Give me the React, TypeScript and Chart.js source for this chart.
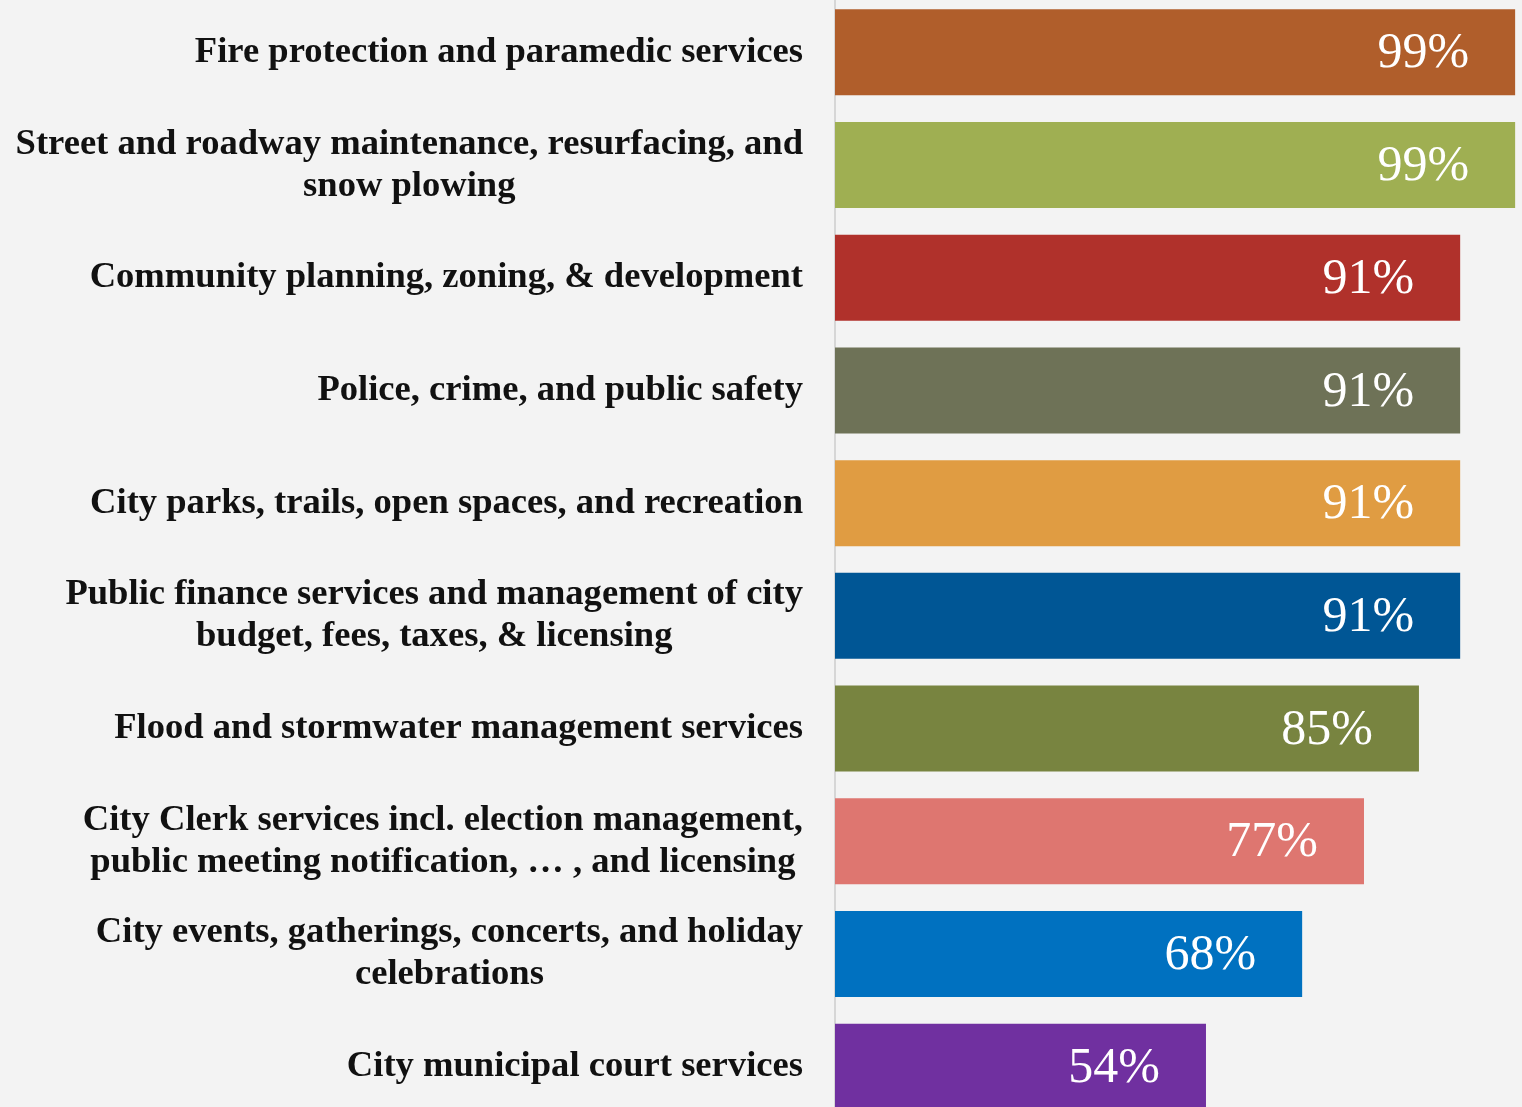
import React, { useEffect, useRef } from "react";
import { Chart, registerables } from "chart.js";

Chart.register(...registerables);

const categories: string[][] = [
  ["Fire protection and paramedic services"],
  ["Street and roadway maintenance, resurfacing, and", "snow plowing"],
  ["Community planning, zoning, & development"],
  ["Police, crime, and public safety"],
  ["City parks, trails, open spaces, and recreation"],
  ["Public finance services and management of city", "budget, fees, taxes, & licensing"],
  ["Flood and stormwater management services"],
  ["City Clerk services incl. election management,", "public meeting notification, … , and licensing"],
  ["City events, gatherings, concerts, and holiday", "celebrations"],
  ["City municipal court services"],
];

const values: number[] = [99, 99, 91, 91, 91, 91, 85, 77, 68, 54];

const barColors: string[] = [
  "#B05E2B",
  "#9FAF52",
  "#B0312B",
  "#6E7257",
  "#E09C42",
  "#005695",
  "#788440",
  "#DE7670",
  "#0071C0",
  "#7030A0",
];

const LABEL_FONT = "bold 36.6px 'Liberation Serif', serif";
const LABEL_LINE = 42;
const LABEL_GAP = 32;

const categoryLabelPlugin = {
  id: "categoryLabels",
  afterDraw(chart: any) {
    const ctx = chart.ctx;
    const yScale = chart.scales.y;
    const right = yScale.right - LABEL_GAP;
    ctx.save();
    ctx.fillStyle = "#111111";
    ctx.font = LABEL_FONT;
    ctx.textAlign = "center";
    ctx.textBaseline = "middle";
    categories.forEach((lines, i) => {
      const y = yScale.getPixelForTick(i);
      const maxW = Math.max(...lines.map((l) => ctx.measureText(l).width));
      const cx = right - maxW / 2;
      const y0 = y - ((lines.length - 1) * LABEL_LINE) / 2;
      lines.forEach((l, j) => ctx.fillText(l, cx, y0 + j * LABEL_LINE));
    });
    ctx.restore();
  },
};

const valueLabelPlugin = {
  id: "valueLabels",
  afterDatasetsDraw(chart: any) {
    const ctx = chart.ctx;
    const meta = chart.getDatasetMeta(0);
    ctx.save();
    ctx.fillStyle = "#FFFFFF";
    ctx.font = "50px 'Liberation Serif', serif";
    ctx.textAlign = "right";
    ctx.textBaseline = "middle";
    meta.data.forEach((bar: any, i: number) => {
      ctx.fillText(values[i] + "%", bar.x - 46, bar.y + 2);
    });
    ctx.restore();
  },
};

export default function App() {
  const ref = useRef<HTMLCanvasElement | null>(null);

  useEffect(() => {
    document.body.style.margin = "0";
    if (!ref.current) return;
    const chart = new Chart(ref.current, {
      type: "bar",
      data: {
        labels: categories.map((c) => c.join(" ")),
        datasets: [
          {
            data: values,
            backgroundColor: barColors,
            borderWidth: 0,
            barPercentage: 0.763,
            categoryPercentage: 1,
          },
        ],
      },
      options: {
        indexAxis: "y",
        animation: false,
        responsive: false,
        maintainAspectRatio: false,
        layout: { padding: 0 },
        plugins: {
          legend: { display: false },
          tooltip: { enabled: false },
        },
        scales: {
          x: {
            display: false,
            min: 0,
            max: 100,
          },
          y: {
            grid: { display: false, drawTicks: false },
            border: { display: true, color: "#D6D6D6", width: 2 },
            ticks: { display: false },
            afterFit: (scale: any) => {
              scale.width = 835;
              scale.paddingTop = 0;
              scale.paddingBottom = 0;
            },
          },
        },
      },
      plugins: [valueLabelPlugin, categoryLabelPlugin],
    });
    return () => chart.destroy();
  }, []);

  return (
    <div
      style={{
        position: "absolute",
        left: 0,
        top: 0,
        width: 1522,
        height: 1107,
        overflow: "hidden",
        background: "#F3F3F3",
      }}
    >
      <canvas
        ref={ref}
        width={1522}
        height={1127}
        style={{ position: "absolute", left: 0, top: -4, width: 1522, height: 1127 }}
      />
    </div>
  );
}
